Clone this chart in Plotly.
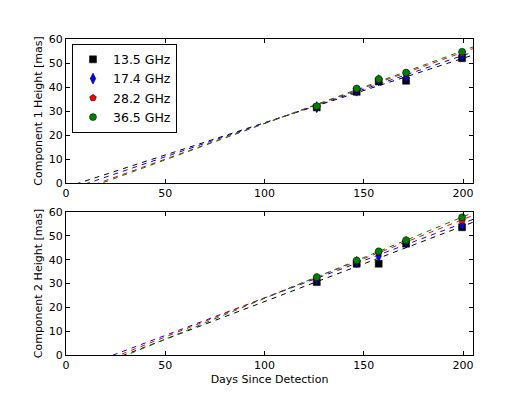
import numpy as np
import plotly.graph_objects as go

# Observation epochs (days since detection)
days = [126.3, 146.4, 157.5, 171.3, 199.5]

# Component 1 heights [mas] per frequency
c1_13 = [31.5, 38.0, 42.3, 42.6, 52.0]
c1_17 = [31.6, 38.5, 42.8, 44.0, 52.9]
c1_28 = [31.8, 39.0, 43.0, 45.5, 54.0]
c1_36 = [32.0, 39.4, 43.3, 46.0, 54.7]

# Component 2 heights [mas] per frequency
c2_13 = [30.6, 38.3, 38.3, 46.7, 53.6]
c2_17 = [31.7, 39.0, 41.5, 47.4, 54.6]
c2_28 = [32.3, 39.5, 43.0, 47.8, 56.4]
c2_36 = [32.7, 39.7, 43.5, 48.2, 57.8]

labels = ["13.5 GHz", "17.4 GHz", "28.2 GHz", "36.5 GHz"]
colores = ["#000000", "#0000ff", "#ff0000", "#008000"]
simbolos = ["square", "diamond-tall", "pentagon", "circle"]
tamanos = [7, 8, 7, 7]

x_fit = np.linspace(0, 205, 200)

fig = go.Figure()

paneles = [([c1_13, c1_17, c1_28, c1_36], "x", "y", True),
           ([c2_13, c2_17, c2_28, c2_36], "x2", "y2", False)]

for series, xa, ya, leyenda in paneles:
    # lineas de ajuste lineal
    for vals, col in zip(series, colores):
        m, b = np.polyfit(days, vals, 1)
        fig.add_trace(go.Scatter(x=x_fit, y=m * x_fit + b, mode="lines",
                                 line=dict(color=col, width=1, dash="5px,5px"),
                                 showlegend=False, hoverinfo="skip",
                                 xaxis=xa, yaxis=ya))
    # puntos medidos
    for vals, lab, col, sym, sz in zip(series, labels, colores, simbolos, tamanos):
        fig.add_trace(go.Scatter(x=days, y=vals, mode="markers", name=lab,
                                 marker=dict(color=col, symbol=sym, size=sz,
                                             line=dict(color="black", width=0.5)),
                                 showlegend=leyenda, xaxis=xa, yaxis=ya))

ejes = dict(showline=True, linecolor="black", linewidth=1, mirror="allticks",
            ticks="inside", ticklen=4, tickcolor="black", showgrid=False,
            zeroline=False, automargin=False, tickfont=dict(size=11, color="black"))

fig.update_layout(
    width=526, height=395,
    # la pagina tiene 8 px de margen, se compensa aqui
    margin=dict(l=58, r=61, t=31, b=48),
    paper_bgcolor="white", plot_bgcolor="white",
    font=dict(family="DejaVu Sans, sans-serif", size=11, color="black"),
    xaxis=dict(domain=[0, 1], range=[0, 205], dtick=50, anchor="y", **ejes),
    yaxis=dict(domain=[0.5443, 1], range=[0, 60], dtick=10, anchor="x",
               title=dict(text="Component 1 Height [mas]", font=dict(size=11), standoff=3), **ejes),
    xaxis2=dict(domain=[0, 1], range=[0, 205], dtick=50, anchor="y2",
                title=dict(text="Days Since Detection", font=dict(size=11), standoff=4), **ejes),
    yaxis2=dict(domain=[0, 0.4525], range=[0, 60], dtick=10, anchor="x2",
                title=dict(text="Component 2 Height [mas]", font=dict(size=11), standoff=3), **ejes),
    legend=dict(x=0.0147, y=0.985, xanchor="left", yanchor="top",
                bgcolor="white", bordercolor="black", borderwidth=1,
                font=dict(size=12.5), tracegroupgap=0),
)

fig.write_html("out.html")
